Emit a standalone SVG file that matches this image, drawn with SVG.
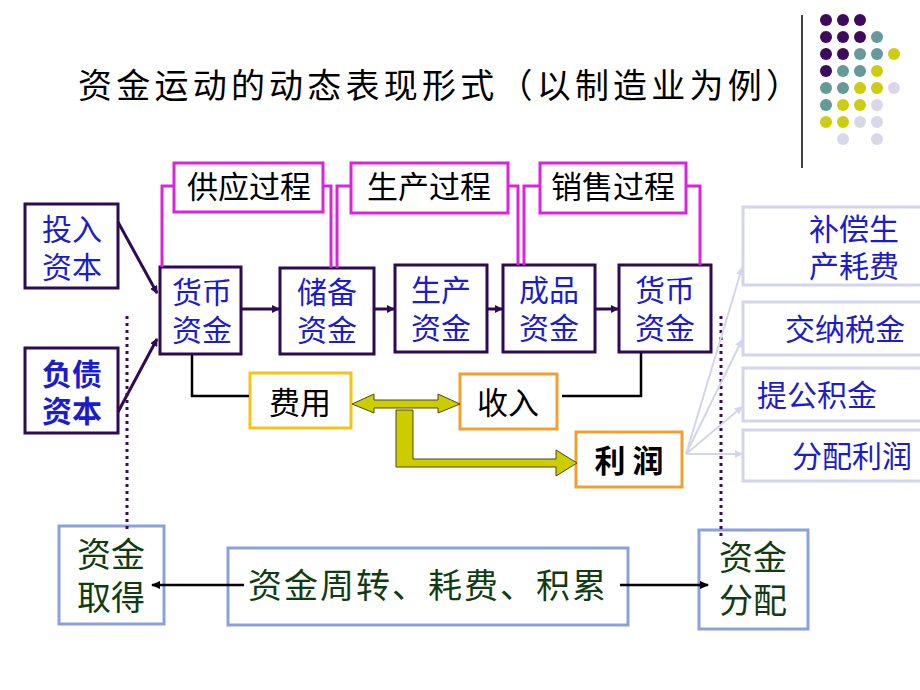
<svg xmlns="http://www.w3.org/2000/svg" width="920" height="690" viewBox="0 0 920 690">
<defs>
<style>
text{font-family:"Noto Sans CJK SC","Noto Sans CJK TC",sans-serif;}
.pbox{fill:#fff;stroke:#2e0a50;stroke-width:3;}
.mbox{fill:#fff;stroke:#dd22dd;stroke-width:3;}
.lbox{fill:#fff;stroke:#d4d4ea;stroke-width:3;}
.bbox{fill:#fff;stroke:#8aa2dc;stroke-width:3;}
.blue{fill:#1c1ccc;font-size:30px;text-anchor:middle;}
.blk{fill:#000;font-size:31px;text-anchor:middle;}
.grn{fill:#113c11;font-size:34px;text-anchor:middle;}
.mag{fill:none;stroke:#dd22dd;stroke-width:3;}
.pl{fill:none;stroke:#2e0a50;stroke-width:3;}
.bl{fill:none;stroke:#000;stroke-width:2.5;}
.dot{fill:none;stroke:#3a0a60;stroke-width:3;stroke-dasharray:3 4;}
.lav{fill:none;stroke:#d4d4ea;stroke-width:2;}
</style>
<marker id="ap" markerWidth="8" markerHeight="8" refX="7" refY="4" orient="auto" markerUnits="userSpaceOnUse"><path d="M0,0 L8,4 L0,8 Z" fill="#2e0a50"/></marker>
<marker id="ab" markerWidth="9" markerHeight="8" refX="8" refY="4" orient="auto" markerUnits="userSpaceOnUse"><path d="M0,0 L9,4 L0,8 Z" fill="#000"/></marker>
<marker id="al" markerWidth="8" markerHeight="8" refX="7" refY="4" orient="auto" markerUnits="userSpaceOnUse"><path d="M0,0 L8,4 L0,8 Z" fill="#d4d4ea"/></marker>
</defs>

<g id="title">
<text x="78" y="98" font-size="34" fill="#000" textLength="722" lengthAdjust="spacing">资金运动的动态表现形式（以制造业为例）</text>
</g>

<g id="decor">
<line x1="802" y1="15" x2="802" y2="168" stroke="#000" stroke-width="1.5"/>
<g fill="#3d0a5c">
<circle cx="826" cy="20" r="6"/><circle cx="843" cy="20" r="6"/><circle cx="860" cy="20" r="6"/>
<circle cx="826" cy="37" r="6"/><circle cx="843" cy="37" r="6"/><circle cx="860" cy="37" r="6"/>
<circle cx="826" cy="54" r="6"/><circle cx="843" cy="54" r="6"/>
<circle cx="826" cy="71" r="6"/>
</g>
<g fill="#669999">
<circle cx="877" cy="37" r="6"/>
<circle cx="860" cy="54" r="6"/><circle cx="877" cy="54" r="6"/>
<circle cx="843" cy="71" r="6"/><circle cx="860" cy="71" r="6"/>
<circle cx="826" cy="88" r="6"/><circle cx="843" cy="88" r="6"/>
<circle cx="826" cy="105" r="6"/>
</g>
<g fill="#cccc11">
<circle cx="894" cy="54" r="6"/>
<circle cx="877" cy="71" r="6"/>
<circle cx="860" cy="88" r="6"/><circle cx="877" cy="88" r="6"/>
<circle cx="843" cy="105" r="6"/><circle cx="860" cy="105" r="6"/>
<circle cx="826" cy="122" r="6"/><circle cx="843" cy="122" r="6"/>
</g>
<g fill="#d8d8ea">
<circle cx="894" cy="88" r="6"/>
<circle cx="877" cy="105" r="6"/>
<circle cx="860" cy="122" r="6"/><circle cx="877" cy="122" r="6"/>
<circle cx="843" cy="139" r="6"/><circle cx="877" cy="139" r="6"/>
</g>
</g>

<g id="touru"><rect class="pbox" x="25" y="204" width="93" height="84"/>
<text class="blue" x="72" y="240">投入</text><text class="blue" x="72" y="278">资本</text></g>
<g id="fuzhai"><rect class="pbox" x="25" y="348" width="93" height="85"/>
<text class="blue" x="72" y="385" font-weight="bold">负债</text><text class="blue" x="72" y="422" font-weight="bold">资本</text></g>

<g id="gongying"><rect class="mbox" x="174" y="163" width="149" height="49"/><text class="blk" x="249" y="198">供应过程</text></g>
<g id="shengchan-guocheng"><rect class="mbox" x="351" y="163" width="157" height="50"/><text class="blk" x="429" y="198">生产过程</text></g>
<g id="xiaoshou"><rect class="mbox" x="540" y="163" width="146" height="50"/><text class="blk" x="613" y="198">销售过程</text></g>

<g id="huobi1"><rect class="pbox" x="160" y="267" width="81" height="87"/>
<text class="blue" x="202" y="303">货币</text><text class="blue" x="202" y="341">资金</text></g>
<g id="chubei"><rect class="pbox" x="280" y="268" width="94" height="86"/>
<text class="blue" x="327" y="303">储备</text><text class="blue" x="327" y="341">资金</text></g>
<g id="shengchan"><rect class="pbox" x="395" y="265" width="92" height="87"/>
<text class="blue" x="441" y="301">生产</text><text class="blue" x="441" y="339">资金</text></g>
<g id="chengpin"><rect class="pbox" x="503" y="265" width="92" height="87"/>
<text class="blue" x="549" y="301">成品</text><text class="blue" x="549" y="339">资金</text></g>
<g id="huobi2"><rect class="pbox" x="619" y="265" width="92" height="87"/>
<text class="blue" x="665" y="301">货币</text><text class="blue" x="665" y="339">资金</text></g>

<g id="feiyong"><rect x="250" y="373" width="101" height="55" fill="#fff" stroke="#f2c418" stroke-width="3"/>
<text class="blk" x="300" y="414" font-size="32">费用</text></g>
<g id="shouru"><rect x="460" y="374" width="97" height="55" fill="#fff" stroke="#f0a030" stroke-width="3"/>
<text class="blk" x="508" y="414">收入</text></g>
<g id="lirun"><rect x="576" y="432" width="106" height="55" fill="#fff" stroke="#f0a030" stroke-width="3"/>
<text class="blk" x="629" y="472" font-weight="bold">利 润</text></g>

<g id="buchang"><rect class="lbox" x="743" y="207" width="185" height="78"/>
<text class="blue" x="854" y="240">补偿生</text><text class="blue" x="854" y="277">产耗费</text></g>
<g id="jiaona"><rect class="lbox" x="743" y="302" width="185" height="53"/>
<text class="blue" x="845" y="340">交纳税金</text></g>
<g id="tigong"><rect class="lbox" x="743" y="368" width="185" height="53"/>
<text class="blue" x="817" y="406">提公积金</text></g>
<g id="fenpei-lirun"><rect class="lbox" x="743" y="430" width="185" height="51"/>
<text class="blue" x="852" y="467">分配利润</text></g>

<g id="qude"><rect class="bbox" x="59" y="526" width="105" height="98"/>
<text class="grn" x="111" y="567">资金</text><text class="grn" x="111" y="610">取得</text></g>
<g id="zhouzhuan"><rect class="bbox" x="228" y="548" width="400" height="77"/>
<text class="grn" x="427" y="598" textLength="358" lengthAdjust="spacing">资金周转、耗费、积累</text></g>
<g id="fenpei"><rect class="bbox" x="699" y="530" width="109" height="99"/>
<text class="grn" x="753" y="570">资金</text><text class="grn" x="753" y="613">分配</text></g>

<g id="connectors">
<path class="mag" d="M174,186 H162 V267"/>
<path class="mag" d="M323,186 H331 V268"/>
<path class="mag" d="M351,186 H337 V268"/>
<path class="mag" d="M508,186 H518 V265"/>
<path class="mag" d="M540,186 H524 V265"/>
<path class="mag" d="M686,186 H700 V265"/>
<line class="pl" x1="118" y1="222" x2="157" y2="293" marker-end="url(#ap)"/>
<line class="pl" x1="118" y1="412" x2="157" y2="339" marker-end="url(#ap)"/>
<line class="pl" x1="241" y1="309" x2="279" y2="309" marker-end="url(#ap)"/>
<line class="pl" x1="374" y1="309" x2="394" y2="309" marker-end="url(#ap)"/>
<line class="pl" x1="487" y1="309" x2="502" y2="309" marker-end="url(#ap)"/>
<line class="pl" x1="595" y1="309" x2="618" y2="309" marker-end="url(#ap)"/>
<path class="bl" d="M192,355 V396 H249"/>
<path class="bl" d="M641,353 V396 H562"/>
<line class="dot" x1="127" y1="316" x2="127" y2="532"/>
<line class="dot" x1="721" y1="316" x2="721" y2="536"/>
<polygon points="352,404 374,394 374,400 438,400 438,394 460,404 438,413 438,408 374,408 374,413" fill="#cccc00" stroke="#4a4a10" stroke-width="1"/>
<polygon points="396,410 413,410 413,459 556,459 556,450 577,463 556,476 556,467 396,467" fill="#cccc00" stroke="#4a4a10" stroke-width="1"/>
<line class="lav" x1="686" y1="454" x2="742" y2="268" marker-end="url(#al)"/>
<line class="lav" x1="686" y1="454" x2="742" y2="340" marker-end="url(#al)"/>
<line class="lav" x1="686" y1="454" x2="742" y2="407" marker-end="url(#al)"/>
<line class="lav" x1="686" y1="454" x2="742" y2="454" marker-end="url(#al)"/>
<line class="bl" x1="244" y1="585" x2="152" y2="585" marker-end="url(#ab)"/>
<line class="bl" x1="620" y1="585" x2="708" y2="585" marker-end="url(#ab)"/>
</g>
</svg>
